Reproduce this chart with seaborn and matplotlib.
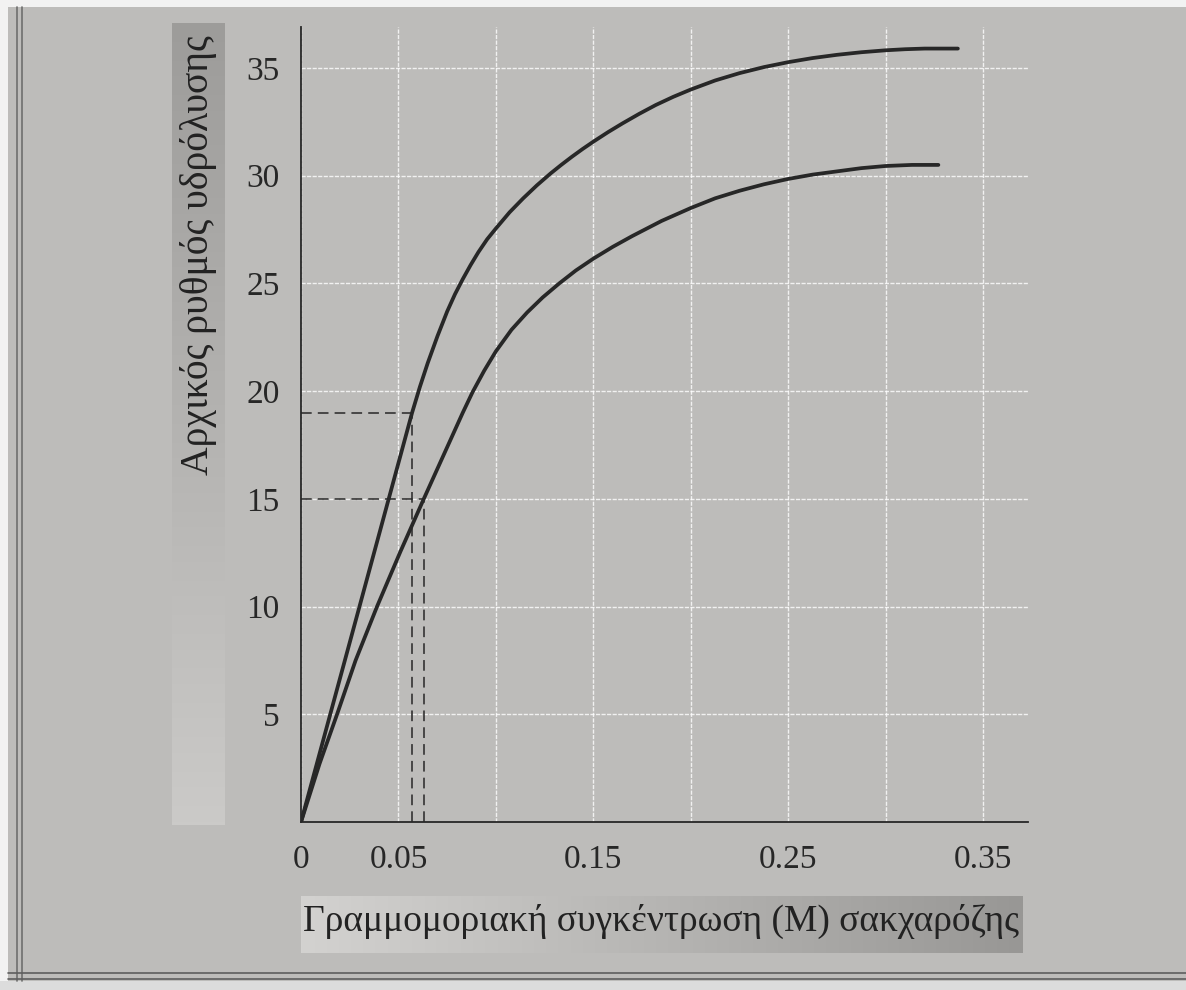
import numpy as np
import pandas as pd
import seaborn as sns
import matplotlib.pyplot as plt
from matplotlib.lines import Line2D
from matplotlib.patches import Rectangle
from matplotlib.colors import LinearSegmentedColormap

# curves (sucrose concentration M, initial hydrolysis rate)
upper_x = [0.0, 0.015, 0.03, 0.045, 0.057, 0.061, 0.065, 0.07, 0.075, 0.079, 0.083, 0.087,
           0.091, 0.0955, 0.1, 0.107, 0.114, 0.121, 0.128, 0.1335, 0.139, 0.1445, 0.15,
           0.1575, 0.165, 0.1735, 0.182, 0.191, 0.2, 0.2125, 0.225, 0.2375, 0.25, 0.2625,
           0.275, 0.2875, 0.3, 0.31, 0.32, 0.337]
upper_y = [0.0, 5.0, 10.0, 15.0, 19.0, 20.2, 21.3, 22.55, 23.7, 24.5, 25.2, 25.85,
           26.45, 27.05, 27.55, 28.3, 28.95, 29.55, 30.1, 30.5, 30.88, 31.24, 31.58,
           32.02, 32.43, 32.87, 33.28, 33.66, 34.0, 34.42, 34.76, 35.04, 35.27, 35.46,
           35.61, 35.73, 35.82, 35.87, 35.9, 35.9]
lower_x = [0.0, 0.0095, 0.0185, 0.028, 0.039, 0.051, 0.063, 0.07, 0.077, 0.083, 0.088,
           0.094, 0.1, 0.108, 0.116, 0.124, 0.1325, 0.141, 0.15, 0.16, 0.17, 0.185, 0.2,
           0.2125, 0.225, 0.2375, 0.25, 0.2625, 0.275, 0.2875, 0.3, 0.3135, 0.327]
lower_y = [0.0, 2.7, 5.0, 7.5, 10.0, 12.55, 15.0, 16.4, 17.8, 19.0, 19.95,
           20.95, 21.85, 22.85, 23.65, 24.35, 25.0, 25.6, 26.15, 26.7, 27.2, 27.9, 28.5,
           28.95, 29.3, 29.6, 29.85, 30.05, 30.2, 30.35, 30.45, 30.5, 30.5]

# dashed guide lines
guide_x = [0.057, 0.063]
guide_y = [19, 15]

x_ticks = [0, 0.05, 0.1, 0.15, 0.2, 0.25, 0.3, 0.35]
x_ticklabels = ['0', '0.05', '', '0.15', '', '0.25', '', '0.35']
y_ticks = [5, 10, 15, 20, 25, 30, 35]

xlabel = 'Γραμμομοριακή συγκέντρωση (Μ) σακχαρόζης'
ylabel = 'Αρχικός ρυθμός υδρόλυσης'

page = '#bdbcba'
ink = '#272727'

sns.set_theme(style='darkgrid', rc={'axes.facecolor': page, 'figure.facecolor': page})
plt.rcParams['font.family'] = ['Liberation Serif', 'DejaVu Serif']

df = pd.concat([
    pd.DataFrame({'conc': upper_x, 'rate': upper_y, 'curve': 'a'}),
    pd.DataFrame({'conc': lower_x, 'rate': lower_y, 'curve': 'b'}),
])

fig = plt.figure(figsize=(11.86, 9.9), dpi=100)
ax = fig.add_axes([0.2538, 0.1697, 0.613, 0.803])

ax.grid(True, color='white', lw=1.0, ls=(0, (3, 1)), alpha=0.8)
ax.set_axisbelow(True)

sns.lineplot(data=df, x='conc', y='rate', units='curve', estimator=None, sort=False,
             color=ink, lw=2.7, ax=ax, legend=False, solid_joinstyle='round')

ax.hlines(guide_y, 0, guide_x, colors=ink, lw=1.1, linestyles=(0, (7, 4)))
ax.vlines(guide_x, 0, guide_y, colors=ink, lw=1.1, linestyles=(0, (7, 4)))

ax.set_xlim(0, 0.373)
ax.set_ylim(0, 36.9)
ax.set_xticks(x_ticks)
ax.set_xticklabels(x_ticklabels)
ax.set_yticks(y_ticks)
ax.set_xlabel('')
ax.set_ylabel('')
ax.tick_params(axis='both', direction='out', length=9.5, width=1.1, color=ink,
               labelcolor=ink, labelsize=24)
ax.tick_params(axis='x', pad=7)
ax.tick_params(axis='y', pad=6)
ax.xaxis.get_major_ticks()[0].tick1line.set_visible(False)
for s in ['top', 'right']:
    ax.spines[s].set_visible(False)
for s in ['left', 'bottom']:
    ax.spines[s].set_visible(True)
    ax.spines[s].set_color(ink)
    ax.spines[s].set_linewidth(1.3)


def grad_box(rect, c0, c1, vertical):
    bax = fig.add_axes(rect)
    g = np.linspace(0, 1, 256)
    g = g.reshape(-1, 1) if vertical else g.reshape(1, -1)
    cmap = LinearSegmentedColormap.from_list('g', [c0, c1])
    bax.imshow(g, aspect='auto', cmap=cmap, extent=[0, 1, 0, 1], origin='lower')
    bax.set_axis_off()


# label backgrounds
grad_box([172 / 1186, 1 - 825 / 990, 53 / 1186, 802 / 990], '#cbcac8', '#9d9c9a', True)
grad_box([301 / 1186, 1 - 953 / 990, 722 / 1186, 57 / 990], '#d3d2d0', '#989795', False)

fig.text(0.167, 0.742, ylabel, rotation=90, ha='center', va='center', fontsize=28.5, color='#222222')
fig.text(0.557, 0.069, xlabel, ha='center', va='center', fontsize=27, color='#222222')

# page edges of the photo
fig.add_artist(Rectangle((0, 0), 8 / 1186, 1, transform=fig.transFigure, color='#f2f2f2', lw=0))
fig.add_artist(Rectangle((0, 1 - 7 / 990), 1, 7 / 990, transform=fig.transFigure, color='#f2f2f2', lw=0))
fig.add_artist(Rectangle((0, 0), 1, 9 / 990, transform=fig.transFigure, color='#dcdcdc', lw=0))
for xx in [17, 22]:
    fig.add_artist(Line2D([xx / 1186, xx / 1186], [9 / 990, 1 - 7 / 990], transform=fig.transFigure,
                          color='#6e6e6e', lw=1.2))
for yy in [973, 979]:
    fig.add_artist(Line2D([8 / 1186, 1], [1 - yy / 990, 1 - yy / 990], transform=fig.transFigure,
                          color='#5e5e5e', lw=1.2))

fig.savefig('out.png', dpi=100, facecolor=fig.get_facecolor())
